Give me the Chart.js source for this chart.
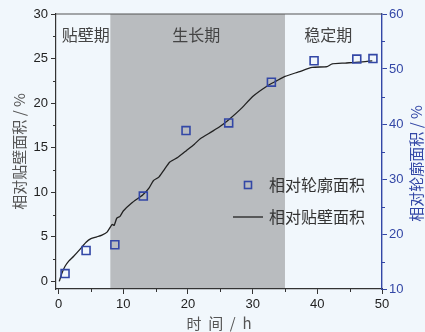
<!DOCTYPE html>
<html><head><meta charset="utf-8">
<script src="https://cdn.jsdelivr.net/npm/chart.js@4"></script>
<style>html,body{margin:0;padding:0;background:#f1f7fc;}#wrap{width:425px;height:332px;}</style>
</head><body><div id="wrap"><canvas id="c" width="425" height="332"></canvas></div>
<script>
// ---- data ----
const lineX = [0.1,0.5,1.0,1.6,2.3,3.3,4.25,5.0,5.9,6.7,7.45,8.0,8.3,8.6,9.0,9.5,10.0,11.3,13.0,14.0,14.65,15.5,16.2,17.2,18.4,19.8,21.0,21.9,23.7,25.0,26.4,28.1,30.1,32.2,33.7,35.0,37.1,39.2,41.5,42.3,44.3,46.4,48.5];
const lineY = [0.0,0.9,1.7,2.3,2.8,3.6,4.4,4.8,5.0,5.2,5.5,6.1,6.4,6.3,7.1,7.3,7.9,8.8,9.7,10.5,11.3,11.7,12.4,13.4,13.9,14.7,15.4,16.0,16.8,17.4,18.2,19.3,20.8,21.9,22.5,23.0,23.5,24.0,24.1,24.4,24.5,24.6,24.75];
const squareX = [1.0,4.25,8.7,13.1,19.7,26.3,32.9,39.5,46.1,48.6];
const squareY = [12.8,17.0,18.05,26.9,38.8,40.2,47.6,51.5,51.8,51.9];
const xTicks = [0,10,20,30,40,50];
const xMinor = [5,15,25,35,45];
const yTicks = [0,5,10,15,20,25,30];
const yMinor = [2.5,7.5,12.5,17.5,22.5,27.5];
const y2Ticks = [10,20,30,40,50,60];
const y2Minor = [15,25,35,45,55];
const phaseBounds = [8,35];
const phaseNames = ['贴壁期','生长期','稳定期'];
const phaseLabelX = [4.2,21.3,41.7];
const seriesNames = ['相对轮廓面积','相对贴壁面积'];
const xTitle = '时  间  /  h';
const yTitle = '相对贴壁面积 / %';
const y2Title = '相对轮廓面积 / %';

const BLUE = '#3347a6';
const CJK = '"Noto Sans CJK SC", "Noto Sans", sans-serif';
const NUM = '"Liberation Sans", Arial, sans-serif';

const extras = {
  id: 'extras',
  beforeDraw(chart) {
    const {ctx, chartArea: a, scales: {x}} = chart;
    ctx.save();
    ctx.fillStyle = '#b9bcbf';
    const x1 = x.getPixelForValue(phaseBounds[0]), x2 = x.getPixelForValue(phaseBounds[1]);
    ctx.fillRect(x1, a.top, x2 - x1, a.bottom - a.top);
    ctx.restore();
  },
  afterDraw(chart) {
    const {ctx, chartArea: a, scales: {x, y, y2}} = chart;
    ctx.save();
    // top frame
    ctx.strokeStyle = '#555'; ctx.lineWidth = 1.2;
    ctx.beginPath(); ctx.moveTo(a.left, a.top); ctx.lineTo(a.right, a.top); ctx.stroke();
    // minor ticks
    ctx.lineWidth = 1; ctx.strokeStyle = '#333';
    ctx.beginPath();
    xMinor.forEach(v => { const p = Math.round(x.getPixelForValue(v)) + 0.5; ctx.moveTo(p, a.bottom); ctx.lineTo(p, a.bottom + 3); });
    yMinor.forEach(v => { const p = Math.round(y.getPixelForValue(v)) + 0.5; ctx.moveTo(a.left, p); ctx.lineTo(a.left - 3, p); });
    ctx.stroke();
    ctx.strokeStyle = BLUE; ctx.beginPath();
    y2Minor.forEach(v => { const p = Math.round(y2.getPixelForValue(v)) + 0.5; ctx.moveTo(a.right, p); ctx.lineTo(a.right + 3, p); });
    ctx.stroke();
    // phase labels
    ctx.fillStyle = '#444'; ctx.font = '16px ' + CJK; ctx.textAlign = 'center'; ctx.textBaseline = 'middle';
    phaseNames.forEach((n, i) => ctx.fillText(n, x.getPixelForValue(phaseLabelX[i]), a.top + 21));
    // legend
    ctx.textAlign = 'left'; ctx.fillStyle = '#333'; ctx.font = '16px ' + CJK;
    const lx = a.right - 134, ly1 = a.top + 171, ly2 = a.top + 203;
    ctx.strokeStyle = BLUE; ctx.lineWidth = 1.6;
    ctx.strokeRect(lx - 3.5, ly1 - 3.5, 7, 7);
    ctx.fillText(seriesNames[0], lx + 21, ly1);
    ctx.strokeStyle = '#222'; ctx.lineWidth = 1.3;
    ctx.beginPath(); ctx.moveTo(lx - 15, ly2); ctx.lineTo(lx + 15, ly2); ctx.stroke();
    ctx.fillText(seriesNames[1], lx + 21, ly2);
    // right axis title
    ctx.fillStyle = BLUE; ctx.font = '15px ' + CJK;
    ctx.translate(416, (a.top + a.bottom) / 2 + 12);
    ctx.rotate(-Math.PI / 2);
    ctx.textAlign = 'center';
    ctx.fillText(y2Title, 0, 0);
    ctx.restore();
  }
};

new Chart(document.getElementById('c'), {
  type: 'scatter',
  data: {
    datasets: [
      {
        label: seriesNames[1], type: 'line', yAxisID: 'y',
        data: lineX.map((v, i) => ({x: v, y: lineY[i]})),
        borderColor: '#222', borderWidth: 1.3, pointRadius: 0, tension: 0.2, fill: false, order: 2
      },
      {
        label: seriesNames[0], yAxisID: 'y2',
        data: squareX.map((v, i) => ({x: v, y: squareY[i]})),
        pointStyle: 'rect', pointRadius: 5.6, borderColor: BLUE, borderWidth: 1.6,
        backgroundColor: 'rgba(0,0,0,0)', showLine: false, order: 1
      }
    ]
  },
  options: {
    responsive: false, animation: false,
    layout: {padding: {top: 14, left: 0, right: 0, bottom: 0}},
    plugins: {legend: {display: false}, tooltip: {enabled: false}},
    scales: {
      x: {
        type: 'linear', min: -0.4, max: 50,
        afterBuildTicks: s => { s.ticks = xTicks.map(v => ({value: v})); },
        afterFit: s => { s.height = 43; },
        grid: {drawOnChartArea: false, drawTicks: true, tickLength: 5, tickColor: '#333'},
        border: {display: true, color: '#333', width: 1.2},
        ticks: {color: '#222', font: {size: 13, family: NUM}, padding: 3, maxRotation: 0},
        title: {display: true, text: xTitle, color: '#555', font: {size: 15, family: CJK}, padding: {top: 0, bottom: 0}}
      },
      y: {
        position: 'left', min: -0.85, max: 30,
        afterBuildTicks: s => { s.ticks = yTicks.map(v => ({value: v})); },
        afterFit: s => { s.width = 56; },
        grid: {drawOnChartArea: false, drawTicks: true, tickLength: 5, tickColor: '#333'},
        border: {display: true, color: '#333', width: 1.2},
        ticks: {color: '#222', font: {size: 13, family: NUM}, padding: 3},
        title: {display: true, text: yTitle, color: '#555', font: {size: 15, family: CJK}, padding: {top: 10, bottom: 0}}
      },
      y2: {
        position: 'right', min: 10, max: 60,
        afterBuildTicks: s => { s.ticks = y2Ticks.map(v => ({value: v})); },
        afterFit: s => { s.width = 43; },
        grid: {drawOnChartArea: false, drawTicks: true, tickLength: 5, tickColor: BLUE},
        border: {display: true, color: BLUE, width: 1.4},
        ticks: {color: BLUE, font: {size: 13, family: NUM}, padding: 2}
      }
    }
  },
  plugins: [extras]
});
</script>
</body></html>
